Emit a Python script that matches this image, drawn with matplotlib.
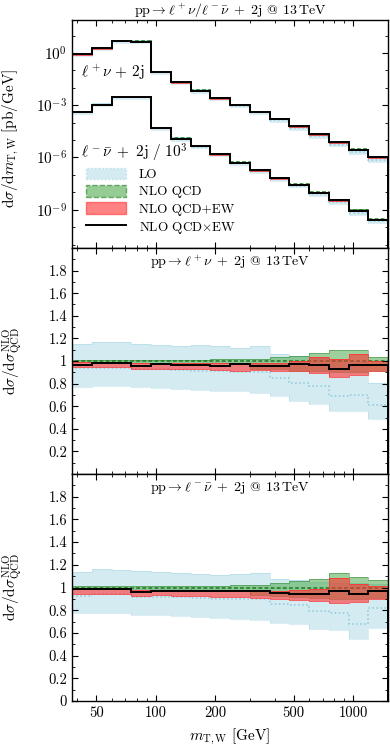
import numpy as np
import matplotlib
matplotlib.use("Agg")
import matplotlib.pyplot as plt
from matplotlib.patches import Patch
from matplotlib.lines import Line2D
from matplotlib.ticker import FixedLocator, NullFormatter, FixedFormatter

plt.rcParams["mathtext.fontset"] = "cm"
plt.rcParams["font.family"] = ["cmr10", "DejaVu Serif"]
plt.rcParams["axes.formatter.use_mathtext"] = True
plt.rcParams["font.size"] = 9.5

# -----------------------------
# DATI
# -----------------------------
edges = [37.7, 47.5, 59.8, 75.3, 94.8, 119.4, 150.2, 189.1, 238.1, 299.8,
         377.4, 475.1, 598.1, 753.0, 948.0, 1193.5, 1500.0]

# NLO QCD, pb/GeV
nlo_wp = [0.87, 1.9, 5.1, 4.7, 0.085, 0.0215, 7.2e-3, 2.6e-3, 1.07e-3, 4.3e-4,
          1.7e-4, 6.3e-5, 2.2e-5, 8e-6, 2.9e-6, 1.1e-6]
nlo_wm = [0.43, 1.1, 3.1, 3.1, 0.051, 0.0126, 4.7e-3, 1.6e-3, 5.2e-4, 1.9e-4,
          6.9e-5, 2.9e-5, 1.0e-5, 3.6e-6, 9.5e-7, 2.8e-7]

# rapporti rispetto a NLO QCD, W+
lo_c_p = [0.935, 0.94, 0.935, 0.925, 0.925, 0.918, 0.915, 0.912, 0.9, 0.9,
          0.85, 0.805, 0.781, 0.687, 0.702, 0.613]
lo_hi_p = [1.15, 1.165, 1.165, 1.147, 1.141, 1.135, 1.141, 1.13, 1.118, 1.129,
           1.065, 1.047, 1.03, 1.01, 1.0, 0.805]
lo_lo_p = [0.772, 0.781, 0.775, 0.77, 0.764, 0.755, 0.746, 0.737, 0.735, 0.72,
           0.687, 0.643, 0.622, 0.554, 0.554, 0.487]
qcd_hi_p = [1.008, 1.008, 1.008, 1.005, 1.006, 1.008, 1.01, 1.014, 1.017, 1.02,
            1.035, 1.047, 1.07, 1.1, 1.1, 1.035]
qcd_lo_p = [0.99, 0.99, 0.99, 0.985, 0.985, 0.983, 0.982, 0.98, 0.975, 0.93,
            0.925, 0.915, 0.91, 0.9, 0.9, 0.91]
ew_hi_p = [0.988, 0.99, 0.99, 0.98, 0.985, 0.982, 0.98, 0.978, 0.985, 0.982,
           0.982, 0.997, 1.035, 1.018, 1.065, 0.997]
ew_lo_p = [0.947, 0.95, 0.95, 0.93, 0.93, 0.928, 0.925, 0.92, 0.915, 0.917,
           0.91, 0.908, 0.894, 0.858, 0.879, 0.908]
mul_c_p = [0.967, 0.982, 0.982, 0.959, 0.973, 0.967, 0.967, 0.959, 0.973, 0.952,
           0.952, 0.973, 0.967, 0.929, 0.967, 0.967]

# rapporti rispetto a NLO QCD, W-
lo_c_m = [0.926, 0.941, 0.941, 0.92, 0.92, 0.912, 0.91, 0.897, 0.9, 0.903,
          0.854, 0.846, 0.792, 0.777, 0.675, 0.823]
lo_hi_m = [1.138, 1.162, 1.155, 1.142, 1.133, 1.127, 1.121, 1.112, 1.118, 1.127,
           1.073, 1.068, 1.05, 1.04, 1.04, 1.03]
lo_lo_m = [0.773, 0.779, 0.777, 0.761, 0.757, 0.749, 0.737, 0.728, 0.72, 0.715,
           0.69, 0.675, 0.631, 0.623, 0.543, 0.646]
qcd_hi_m = [1.01, 1.01, 1.012, 1.01, 1.01, 1.012, 1.012, 1.015, 1.02, 1.022,
            1.044, 1.06, 1.073, 1.127, 1.094, 1.065]
qcd_lo_m = [0.99, 0.99, 0.99, 0.985, 0.985, 0.983, 0.982, 0.98, 0.975, 0.93,
            0.925, 0.915, 0.91, 0.9, 0.9, 0.91]
ew_hi_m = [0.995, 0.998, 0.998, 0.975, 0.98, 0.978, 0.978, 0.975, 0.975, 0.975,
           0.97, 0.98, 0.99, 1.088, 1.03, 1.01]
ew_lo_m = [0.94, 0.945, 0.945, 0.927, 0.93, 0.928, 0.925, 0.92, 0.915, 0.91,
           0.9, 0.89, 0.885, 0.867, 0.87, 0.9]
mul_c_m = [0.985, 0.99, 0.99, 0.961, 0.97, 0.967, 0.967, 0.967, 0.965, 0.965,
           0.95, 0.94, 0.94, 0.97, 0.94, 0.965]

xticks = [50, 100, 200, 500, 1000]
xticklabels = ["50", "100", "200", "500", "1000"]

# colori
c_lo = "#add8e6"
c_lo_line = "#8cc8dc"
c_qcd = "#4daa4d"
c_qcd_line = "#1f7a1f"
c_ew = "#ff3030"

# -----------------------------
# FUNZIONI DI DISEGNO
# -----------------------------
def draw_set(ax, scale, lo_c, lo_lo, lo_hi, qcd_lo, qcd_hi, ew_lo, ew_hi, mul_c):
    s = np.asarray(scale)
    ax.stairs(s * lo_hi, edges, baseline=s * lo_lo, fill=True, color=c_lo, alpha=0.5, lw=0)
    ax.stairs(s * lo_hi, edges, baseline=s * lo_lo, color=c_lo_line, lw=0.8, alpha=0.3)
    ax.stairs(s * lo_c, edges, color=c_lo_line, ls=":", lw=1.1)
    ax.stairs(s * qcd_hi, edges, baseline=s * qcd_lo, fill=True, color=c_qcd, alpha=0.55, lw=0)
    ax.stairs(s * qcd_hi, edges, baseline=s * qcd_lo, color=c_qcd_line, lw=0.6, alpha=0.5)
    ax.stairs(s * np.ones(len(lo_c)), edges, color=c_qcd_line, ls=(0, (2.5, 1.5)), lw=1.1)
    ax.stairs(s * ew_hi, edges, baseline=s * ew_lo, fill=True, color=c_ew, alpha=0.6, lw=0)
    ax.stairs(s * ew_hi, edges, baseline=s * ew_lo, color=c_ew, lw=0.7, alpha=0.75)
    ax.stairs(s * mul_c, edges, color="black", lw=1.4)


def style_ax(ax):
    ax.set_xscale("log")
    ax.set_xlim(edges[0], edges[-1])
    ax.tick_params(which="both", direction="in", top=True, right=True, labelsize=10.5)
    ax.tick_params(which="major", length=4.5, width=0.8)
    ax.tick_params(which="minor", length=2.5, width=0.6)
    minor = [40, 60, 70, 80, 90, 300, 400, 600, 700, 800, 900]
    ax.xaxis.set_major_locator(FixedLocator(xticks))
    ax.xaxis.set_minor_locator(FixedLocator(minor))
    ax.xaxis.set_minor_formatter(NullFormatter())
    for sp in ax.spines.values():
        sp.set_linewidth(1.0)


fig = plt.figure(figsize=(3.9, 7.47), dpi=100)
L, W = 72 / 390, (388 - 72) / 390
H = 747
ax1 = fig.add_axes([L, 1 - 248 / H, W, 228 / H])
ax2 = fig.add_axes([L, 1 - 474 / H, W, 226 / H])
ax3 = fig.add_axes([L, 1 - 701 / H, W, 227 / H])

# -----------------------------
# PANNELLO SUPERIORE
# -----------------------------
nwp = np.array(nlo_wp)
nwm = np.array(nlo_wm) / 1e3
draw_set(ax1, nwp, np.array(lo_c_p), np.array(lo_lo_p), np.array(lo_hi_p),
         np.array(qcd_lo_p), np.array(qcd_hi_p), np.array(ew_lo_p), np.array(ew_hi_p),
         np.array(mul_c_p))
draw_set(ax1, nwm, np.array(lo_c_m), np.array(lo_lo_m), np.array(lo_hi_m),
         np.array(qcd_lo_m), np.array(qcd_hi_m), np.array(ew_lo_m), np.array(ew_hi_m),
         np.array(mul_c_m))
style_ax(ax1)
ax1.set_yscale("log")
ax1.set_ylim(10 ** -11.2, 10 ** 1.9)
ax1.yaxis.set_major_locator(FixedLocator([1e-9, 1e-6, 1e-3, 1e0]))
ax1.yaxis.set_major_formatter(FixedFormatter([r"$10^{-9}$", r"$10^{-6}$", r"$10^{-3}$", r"$10^{0}$"]))
ax1.yaxis.set_minor_locator(FixedLocator([10.0 ** k for k in range(-11, 2)]))
ax1.yaxis.set_minor_formatter(NullFormatter())
ax1.tick_params(axis="y", labelsize=11)
ax1.set_xticklabels([])
ax1.set_title(r"$\mathrm{pp}\rightarrow\ell^+\nu/\ell^-\bar{\nu}\ +\ 2\mathrm{j}$ @ $13\,\mathrm{TeV}$",
              fontsize=10, pad=4)
ax1.text(0.03, 0.77, r"$\ell^+\nu\,+\,2\mathrm{j}$", transform=ax1.transAxes, fontsize=11, va="center")
ax1.text(0.03, 0.417, r"$\ell^-\bar{\nu}\ +\ 2\mathrm{j}\ /\ 10^3$", transform=ax1.transAxes,
         fontsize=11, va="center")
fig.text(11 / 390, 1 - 138 / H, r"$\mathrm{d}\sigma/\mathrm{d}m_{\mathrm{T,W}}\ [\mathrm{pb/GeV}]$",
         rotation=90, ha="center", va="center", fontsize=11)

handles = [
    Patch(facecolor=c_lo, alpha=0.5, edgecolor=c_lo_line, ls=":", lw=1.0),
    Patch(facecolor=c_qcd, alpha=0.6, edgecolor=c_qcd_line, ls="--", lw=1.0),
    Patch(facecolor=c_ew, alpha=0.6, edgecolor=c_ew, lw=1.0),
    Line2D([], [], color="black", lw=1.4),
]
labels = ["LO", "NLO QCD", r"NLO QCD+EW", r"NLO QCD$\times$EW"]
ax1.legend(handles, labels, loc="lower left", bbox_to_anchor=(0.02, 0.02), frameon=False,
           fontsize=9.5, handlelength=3.0, handleheight=0.95, labelspacing=0.3,
           handletextpad=1.0, borderaxespad=0.2)

# -----------------------------
# PANNELLI DEI RAPPORTI
# -----------------------------
ones = np.ones(len(lo_c_p))
draw_set(ax2, ones, np.array(lo_c_p), np.array(lo_lo_p), np.array(lo_hi_p),
         np.array(qcd_lo_p), np.array(qcd_hi_p), np.array(ew_lo_p), np.array(ew_hi_p),
         np.array(mul_c_p))
draw_set(ax3, ones, np.array(lo_c_m), np.array(lo_lo_m), np.array(lo_hi_m),
         np.array(qcd_lo_m), np.array(qcd_hi_m), np.array(ew_lo_m), np.array(ew_hi_m),
         np.array(mul_c_m))

ratio_titles = [r"$\mathrm{pp}\rightarrow\ell^+\nu\ +\ 2\mathrm{j}$ @ $13\,\mathrm{TeV}$",
                r"$\mathrm{pp}\rightarrow\ell^-\bar{\nu}\ +\ 2\mathrm{j}$ @ $13\,\mathrm{TeV}$"]
ylab_y = [361, 587]
for ax, tt, first, yy in zip([ax2, ax3], ratio_titles, [True, False], ylab_y):
    style_ax(ax)
    ax.set_ylim(0, 2)
    if first:
        yt = [0.2, 0.4, 0.6, 0.8, 1.0, 1.2, 1.4, 1.6, 1.8]
    else:
        yt = [0.0, 0.2, 0.4, 0.6, 0.8, 1.0, 1.2, 1.4, 1.6, 1.8]
    ax.yaxis.set_major_locator(FixedLocator(yt))
    ax.yaxis.set_major_formatter(FixedFormatter(["%g" % v for v in yt]))
    ax.yaxis.set_minor_locator(FixedLocator(np.arange(0.1, 2.0, 0.2)))
    fig.text(12 / 390, 1 - yy / H, r"$\mathrm{d}\sigma/\mathrm{d}\sigma^{\mathrm{NLO}}_{\mathrm{QCD}}$",
             rotation=90, ha="center", va="center", fontsize=11)
    ax.text(0.5, 0.938, tt, transform=ax.transAxes, ha="center", va="center", fontsize=10)

ax2.set_xticklabels([])
ax3.xaxis.set_major_formatter(FixedFormatter(xticklabels))
ax3.set_xlabel(r"$m_{\mathrm{T,W}}\ [\mathrm{GeV}]$", fontsize=11, labelpad=5)

fig.savefig("out.png", dpi=100)
